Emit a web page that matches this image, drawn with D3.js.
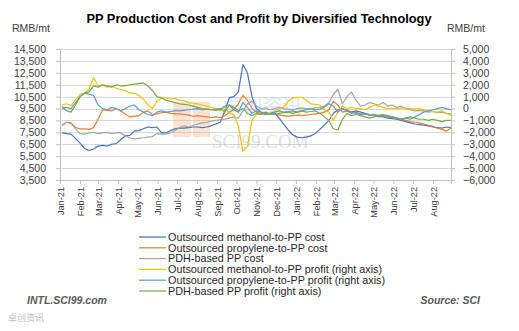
<!DOCTYPE html>
<html>
<head>
<meta charset="utf-8">
<script src="https://cdn.jsdelivr.net/npm/d3@7"></script>
<style>
  body { margin: 0; background: #fff; }
  svg { display: block; font-family: "Liberation Sans", Arial, sans-serif; }
</style>
</head>
<body>
<script>
// weekly points, first one on 2021-01-04
var startDate = new Date(2021, 0, 4);

var methanolCost = [7450, 7400, 7350, 7000, 6600, 6150, 5980, 6100, 6350, 6400,
  6350, 6500, 6550, 6900, 7200, 7250, 7600, 7650, 7800, 7950,
  7900, 7950, 7450, 7450, 7650, 7800, 7850, 7850, 7900, 7950,
  7950, 7900, 7950, 8050, 8200, 8350, 9300, 10400, 10500, 10900,
  13200, 12500, 10500, 9500, 9200, 9100, 9050, 9150, 8700, 8200,
  7700, 7300, 7100, 7050, 7100, 7200, 7400, 7750, 8100, 8500,
  9100, 9400, 9500, 9350, 9200, 9300, 9200, 9100, 9000, 8950,
  8850, 8800, 8700, 8650, 8600, 8500, 8400, 8300, 8200, 8150,
  8100, 8050, 7950, 7900, 7850, 7950, 7900];

var propyleneCost = [8050, 8350, 8300, 7900, 7800, 7800, 7750, 7900, 8600, 9400,
  9350, 9300, 9500, 9300, 9050, 8800, 8850, 8900, 9200, 9300,
  9000, 9050, 9150, 9200, 9100, 9050, 9050, 9000, 8950, 8850,
  8900, 8850, 8800, 8750, 8800, 8750, 8900, 9200, 9400, 9900,
  10600, 10200, 9500, 9200, 9100, 9000, 9050, 9000, 8950, 8900,
  8850, 8900, 8950, 8900, 8950, 9000, 9050, 9100, 9200, 9400,
  10100, 9800, 9200, 9300, 9200, 9100, 9050, 9000, 9000, 8950,
  8950, 8900, 8850, 8800, 8700, 8600, 8500, 8400, 8350, 8300,
  8200, 8100, 8000, 7850, 7750, 7600, 7900];

var pdhCost = [8100, 8350, 8250, 7800, 7400, 7350, 7450, 7500, 7400, 7450,
  7500, 7400, 7450, 7450, 7200, 7050, 6950, 7000, 7050, 7100,
  7150, 7400, 7350, 7350, 7450, 7650, 7900, 8050, 7950, 8100,
  8200, 8300, 8350, 8450, 8500, 8550, 8600, 8700, 8800, 8700,
  9300, 9900, 10100, 9700, 9500, 9550, 9400, 9500, 9600, 9500,
  9450, 9400, 9500, 9550, 9500, 9450, 9550, 9600, 9700, 10000,
  10700, 11100, 9900, 10500, 10900, 10200, 9700, 9800, 10000, 9900,
  9800, 10000, 9700, 9800, 9600, 9700, 9500, 9400, 9300, 9350,
  9300, 9200, 9250, 9150, 9200, 9100, 9050];

var methanolProfit = [300, 400, 250, 700, 1200, 1300, 1600, 2600, 1900, 2000,
  1800, 1900, 1700, 1600, 1500, 1300, 1300, 1100, 800, 300,
  0, 600, 900, 900, 800, 850, 700, 650, 500, 450,
  400, 300, 200, 100, 0, -200, 100, -400, -500, -1500,
  -3600, -3200, -1000, -500, -300, -500, -400, -200, 0, 100,
  600, 900, 950, 950, 700, 400, 350, 300, -100, -300,
  -1000, -300, 200, 0, 100, 0, 0, -100, 100, 300,
  200, 100, 0, 0, 0, 50, 0, 0, -50, 0,
  -100, -200, -250, -300, -200, -400, -600];

var propyleneProfit = [0, 100, 0, 500, 1000, 1300, 1200, 1100, 300, 0,
  -100, 100, 0, -200, 0, 200, 300, -100, -300, -500,
  -600, -300, -200, -300, -250, -200, -200, -150, -100, -50,
  0, -100, -50, -100, -150, -50, 200, 300, -100, -300,
  500, 100, -400, -200, -300, -500, -400, -300, -200, -300,
  -250, -200, -300, -200, -100, 0, -100, -50, 100, 400,
  200, -300, 0, -200, -400, -300, -500, -400, -600, -500,
  -700, -600, -800, -700, -800, -900, -800, -900, -700, -500,
  -300, -200, -100, 0, 100, 0, -100];

var pdhProfit = [200, -200, -300, 300, 1000, 1300, 1400, 1900, 1800, 2000,
  1900, 1800, 2000, 1900, 1900, 2000, 2050, 2100, 2150, 1900,
  1500, 1000, 900, 700, 600, 500, 400, 350, 300, 200,
  100, 0, -50, -100, -50, 0, -300, 300, 100, -200,
  0, -400, -600, -400, -500, -300, -450, -500, -400, -350,
  -300, -400, -300, -200, -300, -250, -200, -400, -700, -1000,
  -1700, -1800, -900, -400, -600, -500, -600, -700, -800, -700,
  -600, -500, -600, -700, -800, -900, -800, -700, -800, -900,
  -900, -1000, -900, -1000, -1100, -1000, -1000];

var leftTicks = [3500, 4500, 5500, 6500, 7500, 8500, 9500, 10500, 11500, 12500, 13500, 14500];
var rightTicks = [-6000, -5000, -4000, -3000, -2000, -1000, 0, 1000, 2000, 3000, 4000, 5000];

var seriesNames = [
  "Outsourced methanol-to-PP cost",
  "Outsourced propylene-to-PP cost",
  "PDH-based PP cost",
  "Outsourced methanol-to-PP profit (right axis)",
  "Outsourced propylene-to-PP profit (right axis)",
  "PDH-based PP profit (right axis)"
];
var seriesColors = ["#4472C4", "#ED7D31", "#A5A5A5", "#FFC000", "#5B9BD5", "#70AD47"];
var seriesData = [methanolCost, propyleneCost, pdhCost, methanolProfit, propyleneProfit, pdhProfit];
var seriesRight = [false, false, false, true, true, true];

var W = 519, H = 331;
var svg = d3.select("body").append("svg").attr("width", W).attr("height", H);

var dates = methanolCost.map(function(d, i) { return d3.timeDay.offset(startDate, 7 * i); });

var x = d3.scaleTime()
  .domain([new Date(2021, 0, 1), dates[dates.length - 1]])
  .range([60, 451]);
var yL = d3.scaleLinear().domain([3500, 14500]).range([180, 49]);
var yR = d3.scaleLinear().domain([-6000, 5000]).range([180, 49]);

// title + units
svg.append("text").attr("x", 259).attr("y", 23).attr("text-anchor", "middle")
  .attr("font-size", 12.8).attr("font-weight", "bold").attr("fill", "#000")
  .text("PP Production Cost and Profit by Diversified Technology");
svg.append("text").attr("x", 12).attr("y", 32).attr("font-size", 10.5).attr("fill", "#404040").text("RMB/mt");
svg.append("text").attr("x", 447).attr("y", 32).attr("font-size", 10.5).attr("fill", "#404040").text("RMB/mt");

// gridlines
svg.append("g").selectAll("line")
  .data(leftTicks.slice(1))
  .enter().append("line")
  .attr("x1", 60).attr("x2", 451)
  .attr("y1", function(d) { return Math.round(yL(d)) + 0.5; })
  .attr("y2", function(d) { return Math.round(yL(d)) + 0.5; })
  .attr("stroke", "#D9D9D9");

// watermark
var wm = svg.append("g").attr("opacity", 0.35);
wm.append("rect").attr("x", 173).attr("y", 102).attr("width", 18).attr("height", 35).attr("fill", "#F4B183");
wm.append("rect").attr("x", 193).attr("y", 102).attr("width", 17).attr("height", 35).attr("fill", "#F4B183");
wm.append("text").attr("x", 222).attr("y", 114).attr("font-size", 20).attr("fill", "#9DC3E6")
  .attr("font-family", "Noto Sans CJK SC").text("卓创资讯");
wm.append("text").attr("x", 212).attr("y", 148).attr("font-size", 19).attr("fill", "#A6A6A6")
  .attr("font-family", "Liberation Serif").text("SCI99.COM");

var leftAxis = d3.axisLeft(yL).tickValues(leftTicks).tickFormat(d3.format(",")).tickSize(4).tickPadding(10);
var gl = svg.append("g").attr("transform", "translate(60,0)").call(leftAxis);
var rightAxis = d3.axisRight(yR).tickValues(rightTicks).tickFormat(d3.format(",")).tickSize(4).tickPadding(8);
var gr = svg.append("g").attr("transform", "translate(451,0)").call(rightAxis);
var xAxis = d3.axisBottom(x).ticks(d3.timeMonth.every(1)).tickFormat(d3.timeFormat("%b-%y")).tickSize(4);
var gx = svg.append("g").attr("transform", "translate(0,180)").call(xAxis);

[gl, gr, gx].forEach(function(g) {
  g.selectAll(".domain").attr("stroke", "#BFBFBF");
  g.selectAll(".tick line").attr("stroke", "#BFBFBF");
  g.selectAll("text").attr("fill", "#404040").attr("font-size", 10.5)
    .attr("font-family", "Liberation Sans, Arial, sans-serif");
});
gx.selectAll("text")
  .attr("transform", "rotate(-90)")
  .attr("text-anchor", "end")
  .attr("font-size", 9.2)
  .attr("x", -7).attr("y", 0).attr("dy", "0.35em");

// series lines
seriesData.forEach(function(vals, k) {
  var yy = seriesRight[k] ? yR : yL;
  var line = d3.line()
    .x(function(d, i) { return x(dates[i]); })
    .y(function(d) { return yy(d); });
  svg.append("path")
    .datum(vals)
    .attr("fill", "none")
    .attr("stroke", seriesColors[k])
    .attr("stroke-width", 1.2)
    .attr("stroke-linejoin", "round")
    .attr("d", line);
});

// legend
var lg = svg.append("g").selectAll("g")
  .data(seriesNames)
  .enter().append("g")
  .attr("transform", function(d, i) { return "translate(139," + (237 + i * 10.8) + ")"; });
lg.append("line").attr("x1", 0).attr("x2", 27).attr("y1", 0).attr("y2", 0)
  .attr("stroke", function(d, i) { return seriesColors[i]; }).attr("stroke-width", 1.2);
lg.append("text").attr("x", 29).attr("y", 0).attr("dy", "0.35em")
  .attr("font-size", 10.8).attr("fill", "#262626").text(function(d) { return d; });

// footer
svg.append("text").attr("x", 27).attr("y", 304).attr("font-size", 10.5).attr("font-weight", "bold")
  .attr("font-style", "italic").attr("fill", "#595959").text("INTL.SCI99.com");
svg.append("text").attr("x", 480).attr("y", 304).attr("text-anchor", "end").attr("font-size", 10.5)
  .attr("font-weight", "bold").attr("font-style", "italic").attr("fill", "#595959").text("Source: SCI");
svg.append("text").attr("x", 8).attr("y", 321).attr("font-size", 9).attr("fill", "#BFBFBF")
  .attr("font-family", "Noto Sans CJK SC").text("卓创资讯");
</script>
</body>
</html>
